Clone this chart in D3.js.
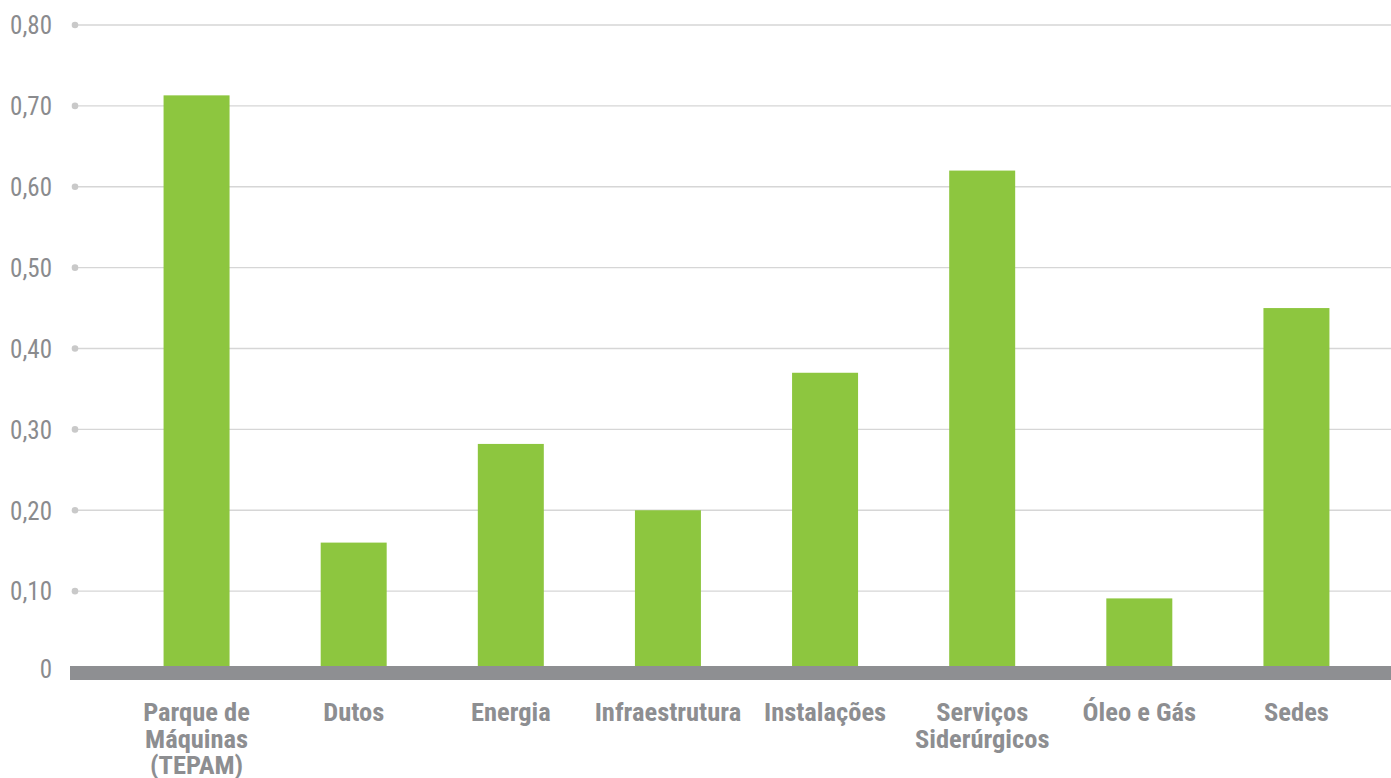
<!DOCTYPE html>
<html><head><meta charset="utf-8">
<script src="https://cdn.jsdelivr.net/npm/d3@7/dist/d3.min.js"></script>
<style>
html,body{margin:0;padding:0;background:#fff;}
svg{display:block;}
</style></head>
<body>
<svg id="chart" width="1391" height="778"></svg>
<script>
const categories = [["Parque de","Máquinas","(TEPAM)"],["Dutos"],["Energia"],["Infraestrutura"],["Instalações"],["Serviços","Siderúrgicos"],["Óleo e Gás"],["Sedes"]];
const values = [0.713, 0.16, 0.282, 0.20, 0.37, 0.62, 0.091, 0.45];
const tickValues = [0, 0.1, 0.2, 0.3, 0.4, 0.5, 0.6, 0.7, 0.8];
const tickLabels = ["0","0,10","0,20","0,30","0,40","0,50","0,60","0,70","0,80"];

const svg = d3.select("#chart");
const font = "'Liberation Sans Narrow','Roboto Condensed','Arial Narrow',Roboto,sans-serif";
const keys = categories.map((c,i)=>i);
const x = d3.scaleBand().domain(keys).range([118, 1375]).paddingInner(0.58).paddingOuter(0.29);
const y = d3.scaleLinear().domain([0, 0.8]).range([672, 25]);

// grid
const grid = svg.append("g");
tickValues.filter(v=>v>0).forEach(v=>{
  grid.append("line").attr("x1",75).attr("x2",1391).attr("y1",y(v)).attr("y2",y(v))
    .attr("stroke","#d6d6d6").attr("stroke-width",1.3);
  grid.append("circle").attr("cx",75).attr("cy",y(v)).attr("r",3.3).attr("fill","#c9c9c9");
});

// y labels
const yAxis = d3.axisLeft(y).tickValues(tickValues).tickFormat((d,i)=>tickLabels[i]).tickSize(0).tickPadding(0);
const ya = svg.append("g").attr("transform","translate(52,0)").call(yAxis);
ya.select(".domain").remove();
ya.selectAll("text").attr("fill","#8a8b8e").style("font-family",font).style("font-size","25px").attr("dy","0.35em");
ya.selectAll(".tick").filter(d=>d===0).select("text").attr("transform","translate(0,-3)");

// bars
svg.append("g").selectAll("rect").data(values).join("rect")
  .attr("x",(d,i)=>x(i)).attr("width",x.bandwidth())
  .attr("y",d=>y(d)).attr("height",d=>y(0)-y(d))
  .attr("fill","#8dc63f");

// baseline
svg.append("rect").attr("x",70).attr("y",666).attr("width",1321).attr("height",14).attr("fill","#8e8f92");

// category labels
const xl = svg.append("g");
categories.forEach((lines,i)=>{
  const t = xl.append("text").attr("text-anchor","middle")
    .attr("x", x(i)+x.bandwidth()/2).attr("y",721)
    .attr("fill","#8d8e91").style("font-family",font).style("font-size","26.5px").style("font-weight","bold");
  lines.forEach((l,j)=>t.append("tspan").attr("x",x(i)+x.bandwidth()/2).attr("dy", j===0?0:26.5).text(l));
});
</script>
</body></html>
